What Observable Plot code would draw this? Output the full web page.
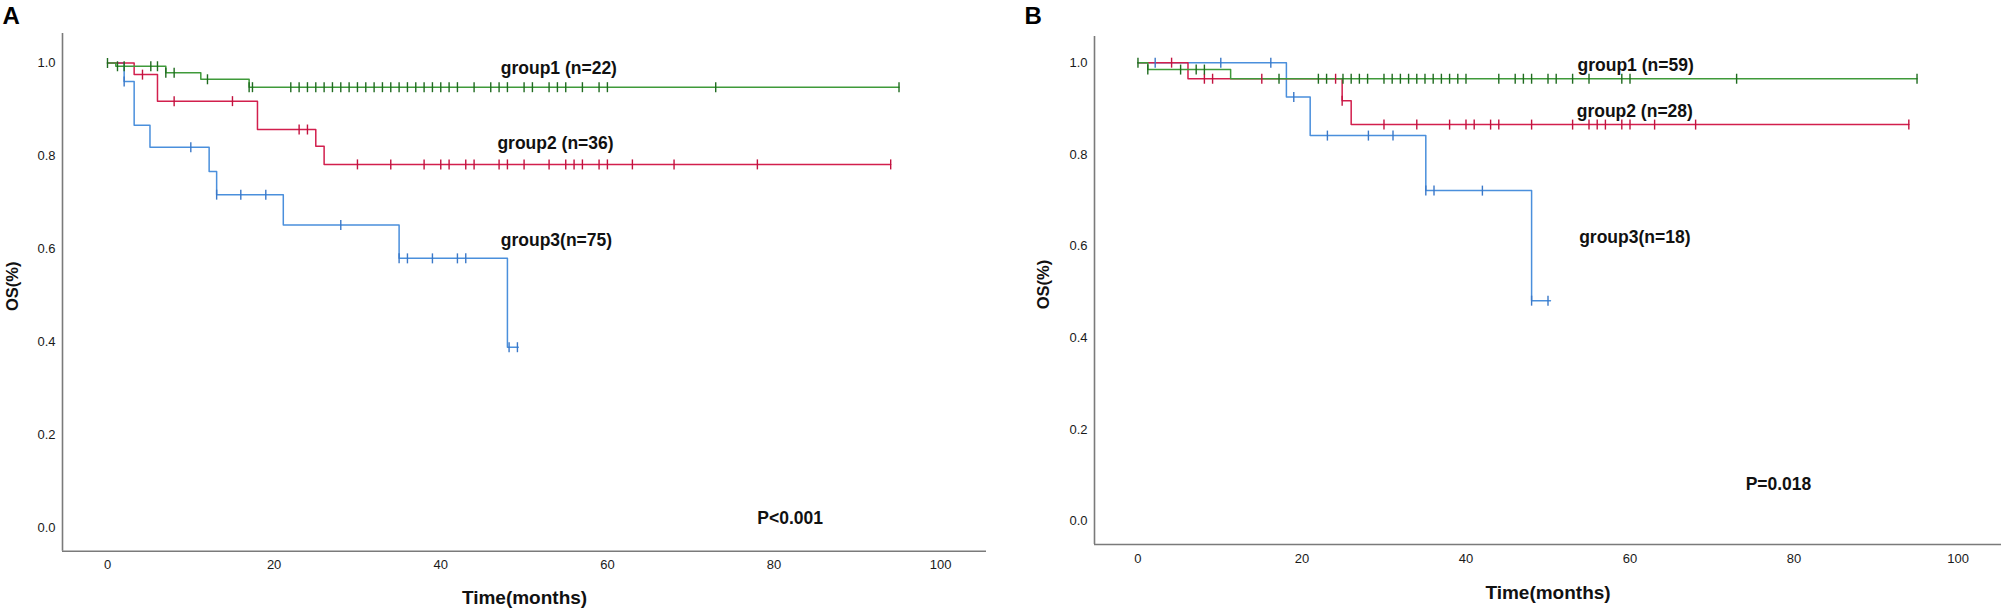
<!DOCTYPE html>
<html>
<head>
<meta charset="utf-8">
<script src="https://cdn.jsdelivr.net/npm/d3@7"></script>
<script src="https://cdn.jsdelivr.net/npm/@observablehq/plot@0.6"></script>
<style>
  body { margin: 0; background: #fff; }
  #wrap { position: relative; width: 2008px; height: 611px; overflow: hidden; background: #fff; }
  #wrap svg { position: absolute; top: 0; }
</style>
</head>
<body>
<div id="wrap"></div>
<script>
// ---------- shared axis ticks ----------
const ticksX = [0, 20, 40, 60, 80, 100];
const ticksY = [0.0, 0.2, 0.4, 0.6, 0.8, 1.0];
const axisTitleX = "Time(months)";
const axisTitleY = "OS(%)";

// ---------- Panel A ----------
const aTitle = "A";
const aG1Time = [0, 1, 7, 11.2, 17, 95];
const aG1Surv = [1.0, 0.993, 0.979, 0.965, 0.948, 0.948];
const aG1Cens = [0, 1.2, 2, 5.2, 6, 7, 8, 12, 17, 17.4, 22, 23, 24, 25, 26, 27, 28, 29, 30, 31, 32, 33, 34, 35, 36, 37, 38, 39, 40, 41, 42, 44, 46, 47, 48, 50, 51, 53, 54, 55, 57, 59, 60, 73, 95];
const aG2Time = [0, 3.2, 6, 18, 25, 26, 94];
const aG2Surv = [1.0, 0.975, 0.918, 0.857, 0.821, 0.782, 0.782];
const aG2Cens = [4.2, 8, 15, 23, 24, 30, 34, 38, 40, 41, 43, 44, 47, 48, 50, 53, 55, 56, 57, 59, 60, 63, 68, 78, 94];
const aG3Time = [0, 2, 3.2, 5.1, 12.2, 13.1, 21.1, 35, 48, 49.3];
const aG3Surv = [1.0, 0.96, 0.866, 0.819, 0.767, 0.717, 0.652, 0.580, 0.389, 0.389];
const aG3Cens = [2, 10, 13.1, 16, 19, 28, 35, 36, 39, 42, 43, 48.2, 49.2];
const aLabels = ["group1 (n=22)", "group2 (n=36)", "group3(n=75)", "P<0.001"];
const aLabelX = [47.2, 46.8, 47.2, 78.0];
const aLabelY = [0.988, 0.827, 0.618, 0.020];

// ---------- Panel B ----------
const bTitle = "B";
const bG1Time = [0, 1.2, 11.3, 95];
const bG1Surv = [1.0, 0.985, 0.965, 0.965];
const bG1Cens = [0, 1.2, 5.2, 7.1, 8.1, 17.2, 22, 23, 25, 26, 27, 28, 30, 31, 32, 33, 34, 35, 36, 37, 38, 39, 40, 44, 46, 47, 48, 50, 51, 53, 55, 59, 60, 73, 95];
const bG2Time = [0, 6.1, 24.9, 26, 94];
const bG2Surv = [1.0, 0.965, 0.917, 0.865, 0.865];
const bG2Cens = [4.1, 8.1, 9.1, 15.1, 24.1, 24.9, 30, 34, 38, 40, 41, 43, 44, 48, 53, 55, 56, 57, 59, 60, 63, 68, 94];
const bG3Time = [0, 18.1, 21, 35.1, 48, 50.3];
const bG3Surv = [1.0, 0.925, 0.841, 0.721, 0.481, 0.481];
const bG3Cens = [2.1, 10.1, 16.2, 19, 23.1, 28.1, 31.1, 35.1, 36.1, 42, 48, 50];
const bLabels = ["group1 (n=59)", "group2 (n=28)", "group3(n=18)", "P=0.018"];
const bLabelX = [53.6, 53.5, 53.8, 74.1];
const bLabelY = [0.994, 0.894, 0.618, 0.080];

// ---------- styling ----------
const lineColors = ["#3f9a3a", "#d21f4d", "#4a8fdc"];
const censorColors = ["#1f6b1f", "#c2123f", "#3a78c8"];
const fontFamily = "'Liberation Sans', Arial, sans-serif";

const censorTick = {
  draw(ctx, size) {
    const r = Math.sqrt(size / Math.PI);
    ctx.moveTo(0, -r);
    ctx.lineTo(0, r);
  }
};

function stepValue(times, surv, t) {
  let v = surv[0];
  for (let i = 0; i < times.length; i++) if (times[i] <= t + 1e-9) v = surv[i];
  return v;
}

function panel(cfg) {
  const marks = [];
  marks.push(Plot.ruleX([cfg.xDomain[0]], {stroke: "#7a7a7a", strokeWidth: 1.6}));
  marks.push(Plot.ruleY([cfg.yDomain[0]], {stroke: "#7a7a7a", strokeWidth: 1.6}));
  for (let i = cfg.groups.length - 1; i >= 0; i--) {
    const g = cfg.groups[i];
    const pts = g.time.map((t, j) => ({t, s: g.surv[j]}));
    marks.push(Plot.line(pts, {x: "t", y: "s", curve: "step-after", stroke: lineColors[i], strokeWidth: 1.5}));
  }
  for (let i = cfg.groups.length - 1; i >= 0; i--) {
    const g = cfg.groups[i];
    const c = g.cens.map(t => ({t, s: stepValue(g.time, g.surv, t)}));
    marks.push(Plot.dot(c, {x: "t", y: "s", symbol: censorTick, r: 5, fill: "none", stroke: censorColors[i], strokeWidth: 1.4}));
  }
  const ann = cfg.labels.map((txt, i) => ({txt, x: cfg.labelX[i], y: cfg.labelY[i]}));
  marks.push(Plot.text(ann, {x: "x", y: "y", text: "txt", textAnchor: "start", fontSize: 17.5, fontWeight: "bold", fill: "#111"}));
  marks.push(Plot.text([cfg.title], {frameAnchor: "top-left", textAnchor: "start", lineAnchor: "middle", dx: cfg.titleDx, dy: cfg.titleDy, fontSize: 24, fontWeight: "bold", fill: "#000"}));
  marks.push(Plot.text([axisTitleX], {frameAnchor: "bottom", textAnchor: "middle", lineAnchor: "middle", dy: cfg.xTitleDy, fontSize: 19, fontWeight: "bold", fill: "#111"}));
  marks.push(Plot.text([axisTitleY], {frameAnchor: "left", textAnchor: "middle", lineAnchor: "middle", rotate: -90, dx: cfg.yTitleDx, dy: -6, fontSize: 16.5, fontWeight: "bold", fill: "#111"}));

  const svg = Plot.plot({
    width: cfg.width,
    height: 611,
    marginLeft: cfg.marginLeft,
    marginRight: cfg.marginRight,
    marginTop: cfg.marginTop,
    marginBottom: cfg.marginBottom,
    style: {fontFamily, fontSize: "13px", color: "#1a1a1a", background: "transparent", overflow: "visible"},
    x: {domain: cfg.xDomain, ticks: ticksX, tickSize: 0, tickPadding: 9, tickFormat: d => String(d), label: null},
    y: {domain: cfg.yDomain, ticks: ticksY, tickSize: 0, tickPadding: 7, tickFormat: d3.format(".1f"), label: null},
    marks
  });
  svg.style.left = cfg.left + "px";
  return svg;
}

const wrap = document.getElementById("wrap");
wrap.appendChild(panel({
  title: aTitle, left: 0, width: 1000,
  marginLeft: 62, marginRight: 14, marginTop: 33, marginBottom: 60.3,
  xDomain: [-5.4, 105.5], yDomain: [-0.0495, 1.0634],
  groups: [
    {time: aG1Time, surv: aG1Surv, cens: aG1Cens},
    {time: aG2Time, surv: aG2Surv, cens: aG2Cens},
    {time: aG3Time, surv: aG3Surv, cens: aG3Cens}
  ],
  labels: aLabels, labelX: aLabelX, labelY: aLabelY,
  titleDx: -60, titleDy: -17, xTitleDy: 47, yTitleDx: -50
}));
wrap.appendChild(panel({
  title: bTitle, left: 1004, width: 1004,
  marginLeft: 90, marginRight: 7, marginTop: 36, marginBottom: 67,
  xDomain: [-5.3, 105.3], yDomain: [-0.0508, 1.0571],
  groups: [
    {time: bG1Time, surv: bG1Surv, cens: bG1Cens},
    {time: bG2Time, surv: bG2Surv, cens: bG2Cens},
    {time: bG3Time, surv: bG3Surv, cens: bG3Cens}
  ],
  labels: bLabels, labelX: bLabelX, labelY: bLabelY,
  titleDx: -70, titleDy: -20, xTitleDy: 48, yTitleDx: -51
}));
</script>
</body>
</html>
